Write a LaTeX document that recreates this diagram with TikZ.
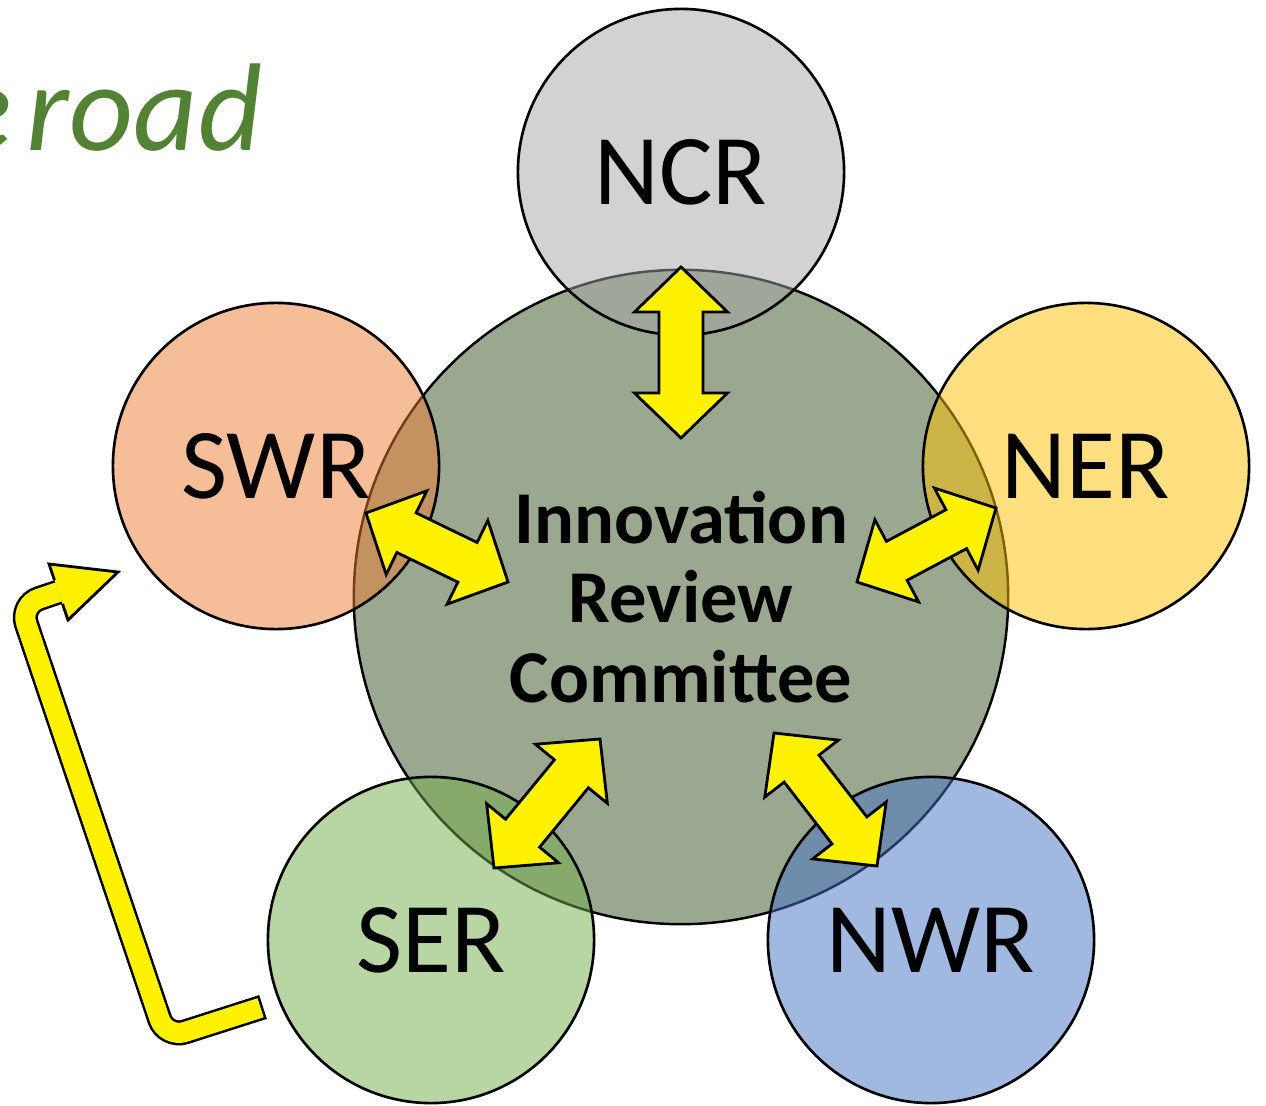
\documentclass[tikz,border=0pt]{standalone}
\usepackage{fontspec}
\setmainfont{Carlito}
\usetikzlibrary{calc}

\definecolor{committee}{RGB}{155,168,144}
\definecolor{ncrgray}{HTML}{A5A5A5}
\definecolor{swrorange}{HTML}{ED7D31}
\definecolor{nergold}{HTML}{FFC000}
\definecolor{sergreen}{HTML}{70AD47}
\definecolor{nwrblue}{HTML}{4472C4}
\definecolor{roadgreen}{HTML}{548235}

\newcommand{\dblarrow}[2]{%
  \filldraw[blockarrow] let \p1=($(#2)-(#1)$), \n1={atan2(\y1,\x1)} in
    (#1) -- ($(#1)+(\n1:4.5mm)+(\n1+90:4.65mm)$) -- ($(#1)+(\n1:4.5mm)+(\n1+90:2.2mm)$)
    -- ($(#2)+(\n1+180:4.5mm)+(\n1+90:2.2mm)$) -- ($(#2)+(\n1+180:4.5mm)+(\n1+90:4.65mm)$)
    -- (#2) -- ($(#2)+(\n1+180:4.5mm)+(\n1-90:4.65mm)$) -- ($(#2)+(\n1+180:4.5mm)+(\n1-90:2.2mm)$)
    -- ($(#1)+(\n1:4.5mm)+(\n1-90:2.2mm)$) -- ($(#1)+(\n1:4.5mm)+(\n1-90:4.65mm)$) -- cycle;}

\begin{document}
\begin{tikzpicture}[x=0.01cm, y=-0.01cm,
    region/.style={circle, draw, line width=0.75pt, minimum size=3.26cm,
        fill opacity=0.5, text opacity=1, font=\fontsize{28.5}{30}\selectfont},
    blockarrow/.style={fill=yellow, draw=black, line width=0.8pt, line join=miter}]
        \clip (0,0) rectangle (1266,1106);

        \node[anchor=base east, inner sep=0pt, text=roadgreen,
            font=\itshape\fontsize{35.5}{40}\selectfont] (title) at (263,150) {e\hspace{0.12em}road};

        \node[circle, draw, line width=0.7pt, fill=committee, minimum size=6.54cm,
            align=center, font=\bfseries\fontsize{21.2}{22.7}\selectfont]
            (irc) at (681,597) {Innovation\\Review\\Committee};

        \node[region, fill=ncrgray] (ncr) at (681,172) {NCR};
        \node[region, fill=nergold] (ner) at (1086,466) {NER};
        \node[region, fill=nwrblue] (nwr) at (931,940) {NWR};
        \node[region, fill=sergreen] (ser) at (431,940) {SER};
        \node[region, fill=swrorange] (swr) at (276,466) {SWR};

        \coordinate (ncr-out) at (681,267);
        \coordinate (ncr-in) at (681,438);
        \coordinate (swr-out) at (366,513);
        \coordinate (swr-in) at (508,582);
        \coordinate (ner-out) at (996,508);
        \coordinate (ner-in) at (857,582);
        \coordinate (ser-out) at (494,868);
        \coordinate (ser-in) at (600,739);
        \coordinate (nwr-out) at (877,866);
        \coordinate (nwr-in) at (774,733);

        \dblarrow{ncr-out}{ncr-in}
        \dblarrow{swr-out}{swr-in}
        \dblarrow{ner-out}{ner-in}
        \dblarrow{ser-out}{ser-in}
        \dblarrow{nwr-out}{nwr-in}

        % u-turn from SER back to SWR
        \coordinate (u-tail) at (263,1007);
        \coordinate (u-low) at (166,1038);
        \coordinate (u-up) at (20,605);
        \coordinate (u-base) at (58.5,592);
        \draw[line width=0.25cm, rounded corners=0.2cm] (u-tail) -- (u-low) -- (u-up) -- (u-base);
        \draw[yellow, line width=0.2cm, rounded corners=0.2cm, shorten <=0.025cm]
            (u-tail) -- (u-low) -- (u-up) -- (u-base);
        \filldraw[blockarrow] (54.5,580.2) -- (49,564) -- (118,572) -- (68,620) -- (62.5,603.8);
    \end{tikzpicture}
\end{document}
